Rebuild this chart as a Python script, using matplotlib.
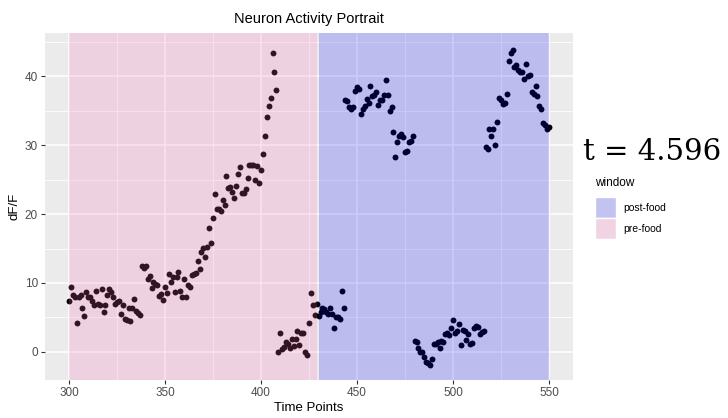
import numpy as np
import matplotlib.pyplot as plt
from matplotlib.patches import Rectangle

# dF/F values, one per time point
pre_food = [7.4, 9.4, 8.3, 8.0, 4.2, 8.0, 8.3, 6.3, 5.2, 8.7,
            7.9, 7.9, 7.4, 6.8, 8.9, 7.0, 6.8, 9.1, 5.8, 6.8,
            8.2, 9.1, 8.7, 7.9, 7.0, 7.2, 7.4, 5.5, 6.8, 4.7,
            4.6, 6.3, 4.4, 6.3, 7.6, 5.9, 5.7, 5.4, 12.4, 12.2,
            12.4, 10.5, 11.0, 9.3, 10.1, 9.8, 9.7, 8.1, 8.4, 7.5,
            9.4, 8.5, 11.3, 10.2, 10.8, 8.7, 10.9, 11.6, 8.8, 8.0,
            10.5, 8.0, 9.7, 9.4, 11.2, 11.3, 11.4, 13.2, 12.0, 14.5,
            15.1, 13.7, 15.2, 18.0, 15.8, 19.4, 22.9, 20.8, 20.7, 20.4,
            22.0, 21.3, 25.5, 23.8, 24.0, 23.2, 22.3, 24.1, 25.8, 26.8,
            23.0, 23.0, 23.7, 25.3, 27.1, 27.1, 27.1, 25.0, 27.0, 24.5,
            26.4, 28.7, 31.3, 34.1, 35.7, 36.9, 43.4, 40.7, 38.0, -0.1,
            2.7, 0.4, 0.7, 1.4, 1.1, 0.5, 1.9, 0.8, 1.9, 3.0,
            1.0, 2.7, 2.8, -0.1, -0.4, 4.2, 8.5, 6.8, 5.4, 6.9]
post_food = [5.2, 5.8, 6.4, 6.2, 5.8, 5.5, 6.4, 5.5, 3.4, 5.1,
             5.0, 4.8, 8.9, 6.3,
             36.5, 36.4, 35.5, 35.3, 35.6, 37.9, 38.5, 38.2, 34.5, 35.3,
             35.7, 36.7, 36.2, 38.6, 37.1, 37.3, 37.7, 35.9, 36.5, 36.5,
             37.3, 39.5, 37.3, 35.0, 35.5,
             31.9, 28.3, 30.5, 31.4, 31.6, 31.2, 29.0, 29.2, 30.5, 30.6, 31.3,
             1.5, 1.45, 0.5, 0.0, -0.1, -0.8, -1.5, -1.7, -1.9, -1.0,
             1.1, 1.2, 1.35, 0.5, 1.5, 1.35, 2.6, 2.7, 2.5, 3.5,
             4.6, 2.7, 3.0, 4.0, 1.0, 3.2, 3.0, 1.7, 2.6, 1.1,
             1.25, 3.4, 3.8, 3.6, 2.6, 2.9, 3.0,
             29.8, 29.5, 32.4, 31.3, 32.3, 30.1, 33.4, 36.8, 36.5, 36.0,
             36.2, 37.4, 42.3, 43.4, 43.9, 41.4, 41.6, 40.9, 40.6, 40.7,
             39.6, 41.8, 40.0, 40.2, 37.8, 37.5, 38.6, 37.2, 35.7, 35.2,
             33.2, 32.9, 32.4, 32.7]
pre_start, post_start = 300, 430
t_stat = 4.596

pre_t = np.arange(pre_start, pre_start + len(pre_food))
post_t = np.arange(post_start, post_start + len(post_food))

plt.rcParams['font.family'] = ['Liberation Sans', 'DejaVu Sans']

fig = plt.figure(figsize=(7.28, 4.18), dpi=100)
ax = fig.add_axes([0.0618, 0.0909, 0.7253, 0.8301])
ax.set_facecolor('#EBEBEB')
for s in ax.spines.values():
    s.set_visible(False)

ax.set_xlim(287.5, 562.5)
ax.set_ylim(-4.1, 46.3)
ax.set_xticks([300, 350, 400, 450, 500, 550])
ax.set_yticks([0, 10, 20, 30, 40])
ax.set_xticks(np.arange(325, 551, 50), minor=True)
ax.set_yticks([5, 15, 25, 35, 45], minor=True)
ax.grid(which='major', color='white', lw=1.1)
ax.grid(which='minor', color='white', lw=0.55)
ax.set_axisbelow(True)
ax.tick_params(which='major', length=3, width=0.8, color='#333333',
               labelsize=8.5, labelcolor='#4D4D4D', pad=2)
ax.tick_params(which='minor', length=0)

# points first, translucent windows on top (as ggplot draws them)
ax.scatter(pre_t, pre_food, s=18, color='black', lw=0, zorder=2)
ax.scatter(post_t, post_food, s=18, color='black', lw=0, zorder=2)
ax.axvspan(pre_start, pre_t[-1], color='hotpink', alpha=0.2, lw=0, zorder=3)
ax.axvspan(post_start, post_t[-1], color='blue', alpha=0.2, lw=0, zorder=3)

ax.set_title('Neuron Activity Portrait', fontsize=10.5, pad=7)
ax.set_xlabel('Time Points', fontsize=9.5, labelpad=2)
ax.set_ylabel('dF/F', fontsize=9.5, labelpad=3)

# legend, drawn by hand to look like ggplot's
fig.text(652 / 728, 1 - 160 / 418, f't = {t_stat}', family='DejaVu Serif',
         fontsize=21, ha='center', va='baseline')
fig.text(595 / 728, 1 - 183 / 418, 'window', fontsize=8.5, va='center')
keys = [('post-food', '#C3C3F2', 197), ('pre-food', '#F2D3E3', 218)]
for label, col, top in keys:
    fig.patches.append(Rectangle((595 / 728, 1 - (top + 21) / 418), 21 / 728, 21 / 418,
                                 transform=fig.transFigure, facecolor=col,
                                 edgecolor='white', lw=1))
    fig.text(623 / 728, 1 - (top + 11) / 418, label, fontsize=7.5, va='center')

fig.savefig('out.png', dpi=100)
